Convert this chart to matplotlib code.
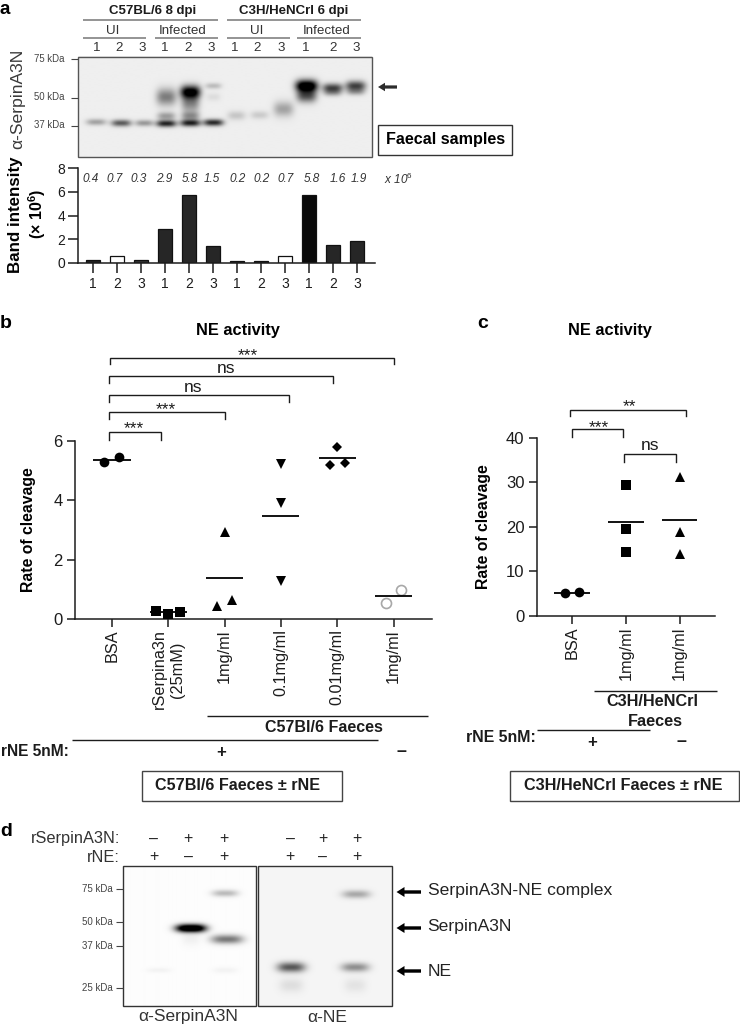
import numpy as np
import matplotlib
matplotlib.use("Agg")
import matplotlib.pyplot as plt
from matplotlib.patches import Rectangle, FancyArrow

plt.rcParams['font.family'] = ['Liberation Sans', 'DejaVu Sans']
plt.rcParams['mathtext.fontset'] = 'custom'
plt.rcParams['mathtext.rm'] = 'Liberation Sans'
plt.rcParams['mathtext.it'] = 'Liberation Sans:italic'
plt.rcParams['mathtext.bf'] = 'Liberation Sans:bold'

W, H = 740, 1025
INK = '#1c1c1c'

# ---- data ----
lane_numbers = ['1', '2', '3'] * 4
band_values = [0.25, 0.6, 0.25, 2.85, 5.7, 1.4, 0.15, 0.15, 0.55, 5.7, 1.5, 1.85]
band_colors = ['#222222', 'white', '#333333', '#262626', '#262626', '#262626',
               '#222222', '#222222', 'white', '#0a0a0a', '#262626', '#262626']
band_labels = ['0.4', '0.7', '0.3', '2.9', '5.8', '1.5', '0.2', '0.2', '0.7', '5.8', '1.6', '1.9']

b_categories = ['BSA', 'rSerpina3n\n(25mM)', '1mg/ml', '0.1mg/ml', '0.01mg/ml', '1mg/ml']
b_values = [[5.27, 5.44], [0.27, 0.16, 0.24], [0.44, 0.63, 2.94],
            [5.21, 3.89, 1.29], [5.80, 5.19, 5.24], [0.99, 0.53]]
b_jitter = [[-0.136, 0.124], [-0.21, 0.0, 0.21], [-0.13, 0.125, 0.0],
            [0, 0, 0], [0, -0.13, 0.13], [0.13, -0.13]]
b_means = [5.35, 0.22, 1.37, 3.45, 5.43, 0.76]
b_markers = ['o', 's', '^', 'v', 'D', 'o']

c_categories = ['BSA', '1mg/ml', '1mg/ml']
c_values = [[5.16, 5.30], [29.4, 19.5, 14.4], [31.2, 18.8, 13.8]]
c_jitter = [[-0.136, 0.136], [0, 0, 0], [0, 0, 0]]
c_means = [5.23, 21.2, 21.5]
c_markers = ['o', 's', '^']

d_serpin_signs = ['–', '+', '+', '–', '+', '+']
d_rne_signs = ['+', '–', '+', '+', '–', '+']

# blot bands: lane centre, height, half width, half height, density
blot_a_bands = [
    (96, 122, 10, 3.2, .30), (121, 123, 10, 3.4, .58), (144, 123, 9, 3.2, .34),
    (166, 123.5, 10, 3.4, .8), (166, 116, 9, 4, .32), (166, 97, 10, 8.5, .45),
    (190, 123, 10, 3.4, .8), (190, 116, 9, 4.5, .35), (190, 92, 10, 6.5, 1.0), (190, 103, 9, 9, .42),
    (213, 122.5, 10, 3.4, .78), (213, 86, 8, 3, .2), (213, 97, 7, 4, .07),
    (236, 115.5, 9, 4.5, .16), (259, 115, 9, 4, .14), (283, 109, 10, 7.5, .3),
    (306, 86, 11, 6, 1.15), (306, 96, 10, 6.5, .6),
    (332, 88, 10, 4.5, .66), (332, 93, 9, 3.5, .25), (355, 86, 10, 5, .68), (355, 92, 9, 3.5, .25),
]
blot_d_left_bands = [
    (224, 893, 13, 3.4, .26), (190, 928, 15, 4, 1.4), (190, 938, 9, 7, .05),
    (226, 939, 16, 4.5, .52), (158, 970, 12, 2.5, .04), (224, 970, 12, 3, .04),
]
blot_d_right_bands = [
    (291, 967, 14, 5, .62), (291, 985, 12, 7, .09), (355, 967, 14, 4.5, .4),
    (355, 985, 11, 7, .07), (356, 894, 14, 4, .3),
]

fig = plt.figure(figsize=(W / 100, H / 100), dpi=100, facecolor='white')


def axes_px(x0, y0, x1, y1):
    return fig.add_axes([x0 / W, 1 - y1 / H, (x1 - x0) / W, (y1 - y0) / H])


ov = fig.add_axes([0, 0, 1, 1], zorder=5)
ov.patch.set_alpha(0)
ov.axis('off')


def T(x, y, s, size=10, weight='normal', ha='center', va='center', color=INK, **kw):
    ov.text(x, y, s, fontsize=size, fontweight=weight, ha=ha, va=va, color=color, **kw)


def L(x0, y0, x1, y1, color=INK, lw=1.0):
    ov.plot([x0, x1], [y0, y1], color=color, lw=lw, solid_capstyle='butt')


def bracket(x0, x1, y, drop0, drop1, text, tx, ty, size=12.5):
    ov.plot([x0, x0, x1, x1], [drop0, y, y, drop1], color=INK, lw=1.0, solid_joinstyle='miter')
    T(tx, ty, text, size=size)


def blot(x0, y0, x1, y1, bands, bg, edge='#555555'):
    xs = np.arange(x0, x1, 0.5)
    ys = np.arange(y0, y1, 0.5)
    X, Y = np.meshgrid(xs, ys)
    D = np.zeros_like(X)
    for cx, cy, w, h, d in bands:
        D += d * np.exp(-np.abs((X - cx) / w) ** 3) * np.exp(-((Y - cy) / h) ** 2)
    ov.imshow(bg - D, cmap='gray', vmin=0, vmax=1, extent=[x0, x1, y1, y0],
              aspect='auto', interpolation='bilinear', zorder=1)
    ov.add_patch(Rectangle((x0, y0), x1 - x0, y1 - y0, fill=False, ec=edge, lw=1.0, zorder=2))


def arrow(x_tail, x_head, y, color='black', width=2.6, hw=8.5, hl=8):
    ov.add_patch(FancyArrow(x_tail, y, x_head - x_tail, 0, width=width, head_width=hw,
                            head_length=hl, length_includes_head=True, color=color, lw=0))


# ---- panel letters ----
T(0, 13.5, 'a', 13.5, 'bold', ha='left', va='baseline', color='black')
T(0, 323, 'b', 14, 'bold', ha='left', color='black')
T(477, 324, 'c', 14, 'bold', ha='left', color='black')
T(0, 832, 'd', 14, 'bold', ha='left', color='black')

# ---- panel a header ----
GR = '#777777'
T(153, 11, 'C57BL/6 8 dpi', 9.5, 'bold')
T(294, 11, 'C3H/HeNCrl 6 dpi', 9.5, 'bold')
L(82.5, 19.7, 218, 19.7, GR, 1.1)
L(226.5, 19.7, 361, 19.7, GR, 1.1)
for x, x0, x1, s in [(113, 82.5, 146, 'UI'), (182.5, 154.5, 218, 'Infected'),
                     (257, 226.5, 290, 'UI'), (327, 297, 361, 'Infected')]:
    T(x, 31, s, 9.6, color='#333333')
    L(x0, 38, x1, 38, GR, 1.1)
for x, s in zip([97, 119, 142, 165, 188, 211, 235, 257.5, 281, 306, 333, 356], lane_numbers):
    T(x, 48, s, 9.6, color='#333333')

blot(78, 56.5, 371.5, 157, blot_a_bands, 0.935)
for y, ly, s in [(59, 58.7, '75 kDa'), (98, 97.5, '50 kDa'), (125.7, 124.7, '37 kDa')]:
    T(65, ly, s, 6.9, ha='right', color='#444444')
    L(71, y, 78, y, '#444444', 0.8)
T(17.5, 98.5, 'α-SerpinA3N', 12.6, rotation=90, color='#3a3a3a')
arrow(397, 378, 87, color='#2c2c2c', width=3.2, hw=8.5, hl=7)
ov.add_patch(Rectangle((378, 124.5), 133.5, 30.5, fill=False, ec='#333333', lw=1.0))
T(445.5, 139.5, 'Faecal samples', 11.6, 'bold', color='black')

# ---- panel a bars ----
ax = axes_px(78, 168, 375, 263)
xa = np.arange(len(band_values))
ax.bar(xa, band_values, width=0.59, color=band_colors, edgecolor='#111111', linewidth=0.9)
ax.set_xlim(-(93 - 78) / 24.03, (375 - 93) / 24.03)
ax.set_ylim(0, 8)
ax.set_yticks([0, 2, 4, 6, 8])
ax.set_xticks(xa, lane_numbers)

for x, s in zip([90.5, 115, 139, 164, 190, 212, 238, 262, 286, 311.5, 338, 359], band_labels):
    T(x, 179.5, s, 8.5, style='italic', color='#333333')
T(398, 179.5, r'x 10$^{\mathit{6}}$', 8.5, style='italic', color='#333333')
T(16, 215, 'Band intensity', 12.2, 'bold', rotation=90, color='black')
T(37, 214, r'(× 10$^{\mathbf{6}}$)', 11.5, 'bold', rotation=90, color='black')


def style(a, tick_len=7, size=10.5):
    for s in ('top', 'right'):
        a.spines[s].set_visible(False)
    for s in ('left', 'bottom'):
        a.spines[s].set_linewidth(1.1)
        a.spines[s].set_color(INK)
    a.tick_params(length=tick_len, width=1.1, color=INK, labelcolor=INK, labelsize=size, pad=2.5)
    a.patch.set_alpha(0)


style(ax, 7, 10)
ax.tick_params(axis='y', length=7, pad=2)
ax.tick_params(axis='x', length=7, pad=3)


# ---- panels b and c ----
def dot_panel(a, cats, values, jitter, means, markers, halfw, open_last=False):
    for i, (vals, jit, mean, mk) in enumerate(zip(values, jitter, means, markers)):
        xs = [i + j for j in jit]
        if open_last and i == len(values) - 1:
            a.plot(xs, vals, ls='', marker=mk, ms=7.2, mfc='white', mec='#a8a8a8', mew=1.2, clip_on=False, zorder=3)
        else:
            ms = 5.6 if mk == 'D' else 7.0
            a.plot(xs, vals, ls='', marker=mk, ms=ms, color='black', mew=0, clip_on=False, zorder=3)
        a.hlines(mean, i - halfw, i + halfw, color='black', lw=1.3, zorder=4)
    a.set_xticks(range(len(cats)), cats, rotation=90, va='top', ha='center', multialignment='center')


axb = axes_px(75, 440.7, 431.7, 619)
dot_panel(axb, b_categories, b_values, b_jitter, b_means, b_markers, 0.33, open_last=True)
axb.set_xlim(-(112 - 75) / 56.3, (431.7 - 112) / 56.3)
axb.set_ylim(0, 6)
axb.set_yticks([0, 2, 4, 6])
style(axb, 7, 12)
axb.tick_params(axis='x', length=6, pad=1.5, labelsize=11.7)
axb.tick_params(axis='y', length=6, pad=3)
axb.set_ylabel('Rate of cleavage', fontsize=11.3, fontweight='bold', color='black')
axb.yaxis.set_label_coords((36 - 75) / (431.7 - 75), 0.5)

axc = axes_px(537, 437.7, 715, 616)
dot_panel(axc, c_categories, c_values, c_jitter, c_means, c_markers, 0.33)
axc.set_xlim(-(572 - 537) / 53.8, (715 - 572) / 53.8)
axc.set_ylim(0, 40)
axc.set_yticks([0, 10, 20, 30, 40])
style(axc, 7, 12)
axc.tick_params(axis='x', length=6, pad=1.5, labelsize=11.7)
axc.tick_params(axis='y', length=6, pad=3)
axc.set_ylabel('Rate of cleavage', fontsize=11.3, fontweight='bold', color='black')
axc.yaxis.set_label_coords((491 - 537) / (715 - 537), 0.5)

T(238, 330, 'NE activity', 11.8, 'bold', color='black')
T(610, 330, 'NE activity', 11.8, 'bold', color='black')

# b brackets
bracket(110.3, 393.7, 358, 364, 364, '***', 247.7, 355.5)
bracket(109, 333.3, 376.3, 383, 383, 'ns', 226, 368.5)
bracket(109, 289, 395, 402, 402, 'ns', 193, 387.5)
bracket(109, 225, 412, 418.7, 418.7, '***', 166.3, 409.5)
bracket(109, 161, 432.3, 439.7, 439.7, '***', 134, 429)

# c brackets
bracket(570, 686, 409.7, 415.7, 415.7, '**', 629, 407)
bracket(571.7, 623.3, 429.3, 437, 437, '***', 599.3, 428)
bracket(624, 676, 453.7, 461.7, 461.7, 'ns', 650, 446)

# b annotations
L(207, 716, 428, 716, INK, 1.0)
T(324, 727, 'C57Bl/6 Faeces', 11.5, 'bold')
L(72, 740, 378, 740, INK, 1.0)
T(69, 752, 'rNE 5nM:', 11.2, 'bold', ha='right')
T(221, 752, '+', 12, 'bold')
T(401, 752, '–', 13, 'bold')
ov.add_patch(Rectangle((142, 771), 200, 30, fill=False, ec='#444444', lw=1.0))
T(238, 786, 'C57Bl/6 Faeces ± rNE', 11.6, 'bold')

# c annotations
L(594, 691, 717, 691, INK, 1.0)
T(652, 701, 'C3H/HeNCrl', 11.7, 'bold')
T(655, 721, 'Faeces', 11.7, 'bold')
T(536, 737, 'rNE 5nM:', 11.4, 'bold', ha='right')
L(537, 730, 650, 730, INK, 1.0)
T(592, 742, '+', 12, 'bold')
T(681, 742, '–', 13, 'bold')
ov.add_patch(Rectangle((510, 771), 229, 30, fill=False, ec='#444444', lw=1.0))
T(623, 786, 'C3H/HeNCrl Faeces ± rNE', 11.7, 'bold')

# ---- panel d ----
T(120, 839, 'rSerpinA3N:', 11.8, ha='right', color='#333333')
T(120, 858, 'rNE:', 11.8, ha='right', color='#333333')
for x, s1, s2 in zip([153.6, 188, 224, 290, 322.5, 357], d_serpin_signs, d_rne_signs):
    T(x, 839, s1, 11.5, color='#222222')
    T(x, 857, s2, 11.5, color='#222222')
blot(122.5, 866, 255.7, 1006, blot_d_left_bands, 0.99, edge='#333333')
blot(258, 866, 392, 1006, blot_d_right_bands, 0.96, edge='#333333')
for y, s in [(889, '75 kDa'), (922, '50 kDa'), (946, '37 kDa'), (988, '25 kDa')]:
    T(113, y, s, 7, ha='right', color='#444444')
    L(116, y, 122.5, y, '#444444', 0.8)
T(188, 1017, 'α-SerpinA3N', 12.5, color='#333333')
T(327, 1017, 'α-NE', 12.5, color='#333333')
for y, ly, s in [(892, 891, 'SerpinA3N-NE complex'), (928, 927, 'SerpinA3N'), (971, 971, 'NE')]:
    arrow(421, 396.5, y, width=3.4, hw=10, hl=8)
    T(427.5, ly, s, 12.6, ha='left', color='#222222')

ov.set_xlim(0, W)
ov.set_ylim(H, 0)
fig.savefig('out.png', dpi=100)
